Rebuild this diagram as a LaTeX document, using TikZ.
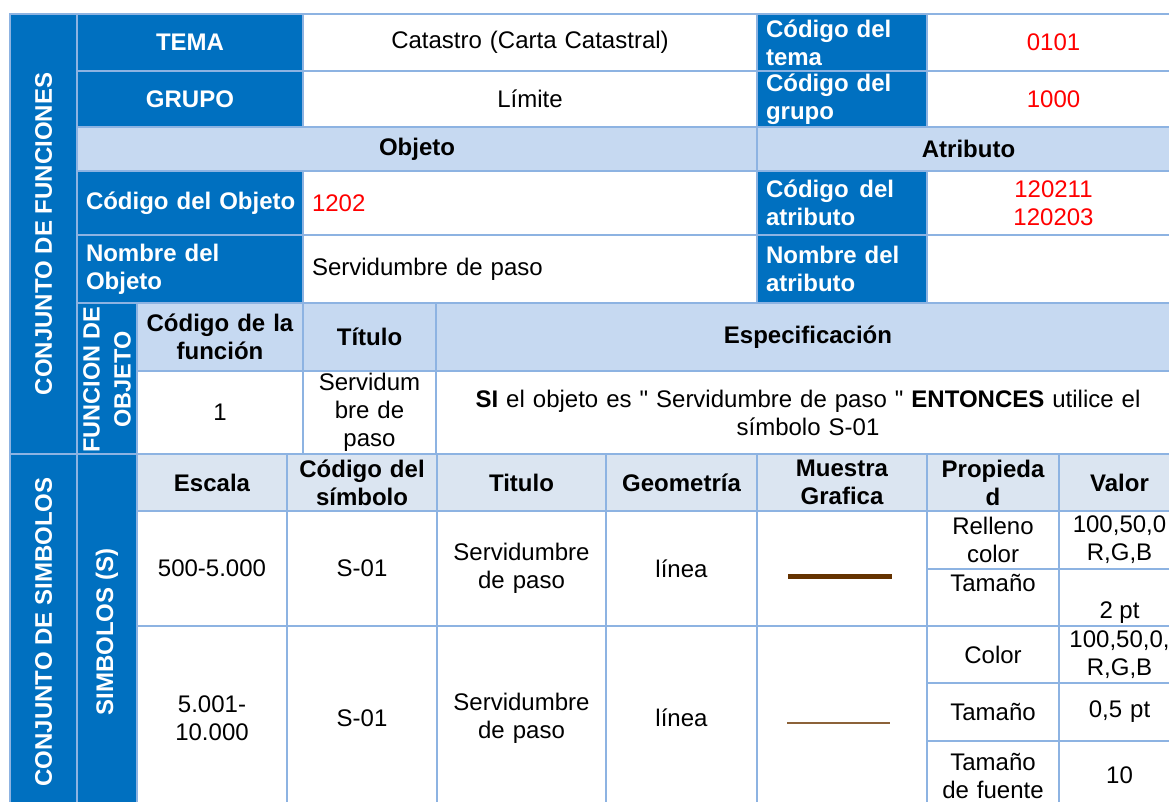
\documentclass[tikz,border=0pt]{standalone}
\usepackage{fontspec}
\setmainfont{Liberation Sans}
\definecolor{dblue}{HTML}{0070C0}
\definecolor{gridc}{HTML}{8DB3E2}
\definecolor{lblue}{HTML}{C6D9F1}
\definecolor{pblue}{HTML}{DBE5F1}
\definecolor{brownA}{RGB}{100,50,0}
\definecolor{brownB}{RGB}{140,98,57}
\newcommand\fsz{\fontsize{24}{28}\selectfont}
\newcommand\dq{\XeTeXglyph\XeTeXcharglyph"22\relax}
\tikzset{
 cellbase/.style={draw=gridc,line width=2pt,inner xsep=9pt,inner ysep=0pt,outer sep=0pt,font=\fsz},
 dark/.style={fill=dblue,text=white,font=\fsz\bfseries},
 head/.style={fill=lblue,font=\fsz\bfseries},
 phead/.style={fill=pblue,font=\fsz\bfseries},
 plain/.style={fill=white},
 redt/.style={fill=white,text=red},
 ctr/.style={align=center},
 lft/.style={align=left},
 rotlab/.style={rotate=90,text=white,font=\fsz\bfseries,inner sep=0pt,align=center},
 txt/.style={font=\fsz,inner sep=0pt}
}
\newcommand\cell[7]{%
 \pgfmathsetmacro\cw{#4-#2}\pgfmathsetmacro\ch{#5-#3}\pgfmathsetmacro\tw{#4-#2-18}%
 \node[cellbase,#6,minimum width=\cw pt,minimum height=\ch pt,text width=\tw pt,anchor=north west] (#1) at (#2,#3) {#7};}
\begin{document}
\begin{tikzpicture}[x=1pt,y=-1pt]
\useasboundingbox (0,0) rectangle (1169,801);
\clip (0,0) rectangle (1169,801);
% ---- Conjunto de funciones
\cell{cf}{10}{14}{77}{454}{dark}{}
\cell{temaL}{77}{14}{303}{71}{dark,ctr}{TEMA}
\cell{temaV}{303}{14}{757}{71}{plain,ctr}{Catastro (Carta Catastral)}
\cell{ctemaL}{757}{14}{927}{71}{dark,lft}{Código del\\tema}
\cell{ctemaV}{927}{14}{1180}{71}{redt,ctr}{0101}
\cell{grupoL}{77}{71}{303}{127}{dark,ctr}{GRUPO}
\cell{grupoV}{303}{71}{757}{127}{plain,ctr}{Límite}
\cell{cgrupoL}{757}{71}{927}{127}{dark,lft}{Código del\\grupo}
\cell{cgrupoV}{927}{71}{1180}{127}{redt,ctr}{1000}
\cell{objH}{77}{127}{757}{171}{head,ctr}{Objeto}
\cell{atrH}{757}{127}{1180}{171}{head,ctr}{Atributo}
\cell{cobjL}{77}{171}{303}{235}{dark,lft}{\mbox{Código del Objeto}}
\cell{cobjV}{303}{171}{757}{235}{redt,lft}{1202}
\cell{catrL}{757}{171}{927}{235}{dark,lft}{Código\hspace{0.45em}del\\atributo}
\cell{catrV}{927}{171}{1180}{235}{redt,ctr}{120211\\120203}
\cell{nobjL}{77}{235}{303}{303}{dark,lft}{Nombre del\\Objeto}
\cell{nobjV}{303}{235}{757}{303}{plain,lft}{Servidumbre de paso}
\cell{natrL}{757}{235}{927}{303}{dark,lft}{Nombre del\\atributo}
\cell{natrV}{927}{235}{1180}{303}{plain,ctr}{}
% ---- Funcion de objeto
\cell{fo}{77}{303}{137}{454}{dark}{}
\cell{fcH}{137}{303}{303}{371}{head,ctr}{Código de la\\función}
\cell{ftH}{303}{303}{436}{371}{head,ctr}{Título}
\cell{feH}{436}{303}{1180}{371}{head,ctr}{Especificación}
\cell{fcV}{137}{371}{303}{454}{plain,ctr}{1}
\cell{ftV}{303}{371}{436}{454}{plain,ctr}{Servidum\\bre de\\paso}
\cell{feV}{436}{371}{1180}{454}{plain,ctr}{\textbf{SI} el objeto es \dq{} Servidumbre de paso \dq{} \textbf{ENTONCES} utilice el\\símbolo S-01}
% ---- Conjunto de simbolos
\cell{cs}{10}{454}{77}{810}{dark}{}
\cell{ss}{77}{454}{137}{810}{dark}{}
\cell{hEsc}{137}{454}{287}{511}{phead,ctr}{Escala}
\cell{hCod}{287}{454}{437}{511}{phead,ctr}{Código del\\símbolo}
\cell{hTit}{437}{454}{606}{511}{phead,ctr}{Titulo}
\cell{hGeo}{606}{454}{757}{511}{phead,ctr}{Geometría}
\cell{hMue}{757}{454}{927}{511}{phead,ctr}{Muestra\\Grafica}
\cell{hPro}{927}{454}{1059}{511}{phead,ctr}{Propieda\\d}
\cell{hVal}{1059}{454}{1180}{511}{phead,ctr}{Valor}
% row A
\cell{aEsc}{137}{511}{287}{626}{plain,ctr}{500-5.000}
\cell{aCod}{287}{511}{437}{626}{plain,ctr}{S-01}
\cell{aTit}{437}{511}{606}{626}{plain,ctr}{Servidumbre\\de paso}
\cell{aGeo}{606}{511}{757}{626}{plain,ctr}{línea}
\cell{aMue}{757}{511}{927}{626}{plain,ctr}{}
\cell{aP1}{927}{511}{1059}{569}{plain,ctr}{Relleno\\color}
\cell{aV1}{1059}{511}{1180}{569}{plain,ctr}{100,50,0\\R,G,B}
\cell{aP2}{927}{569}{1059}{626}{plain,ctr}{}
\cell{aV2}{1059}{569}{1180}{626}{plain,ctr}{}
\node[txt,anchor=base] (aP2t) at ([yshift=-22pt]aP2.north) {Tamaño};
\node[txt,anchor=base] (aV2t) at ([yshift=8pt]aV2.south) {2 pt};
% row B
\cell{bEsc}{137}{626}{287}{810}{plain,ctr}{5.001-\\10.000}
\cell{bCod}{287}{626}{437}{810}{plain,ctr}{S-01}
\cell{bTit}{437}{626}{606}{810}{plain,ctr}{Servidumbre\\de paso}
\cell{bGeo}{606}{626}{757}{810}{plain,ctr}{línea}
\cell{bMue}{757}{626}{927}{810}{plain,ctr}{}
\cell{bP1}{927}{626}{1059}{683}{plain,ctr}{Color}
\cell{bV1}{1059}{626}{1180}{683}{plain,ctr}{100,50,0,\\R,G,B}
\cell{bP2}{927}{683}{1059}{741}{plain,ctr}{Tamaño}
\cell{bV2}{1059}{683}{1180}{741}{plain,ctr}{0,5 pt}
\cell{bP3}{927}{741}{1059}{810}{plain,ctr}{Tamaño\\de fuente}
\cell{bV3}{1059}{741}{1180}{810}{plain,ctr}{10}
% sample lines
\draw[line width=5pt,brownA] (788,576) -- (892,576);
\draw[line width=1.5pt,brownB] (787,723) -- (890,723);
% rotated labels
\node[rotlab] (cfl) at (cf.center) {CONJUNTO DE FUNCIONES};
\node[rotlab,font=\fontsize{23.5}{28}\selectfont\bfseries] (fol) at ([yshift=-1pt]fo.center) {FUNCION DE\\[3pt]OBJETO};
\node[rotlab] (csl) at (cs.center) {CONJUNTO DE SIMBOLOS};
\node[rotlab] (ssl) at (ss.center) {SIMBOLOS (S)};
\end{tikzpicture}
\end{document}
